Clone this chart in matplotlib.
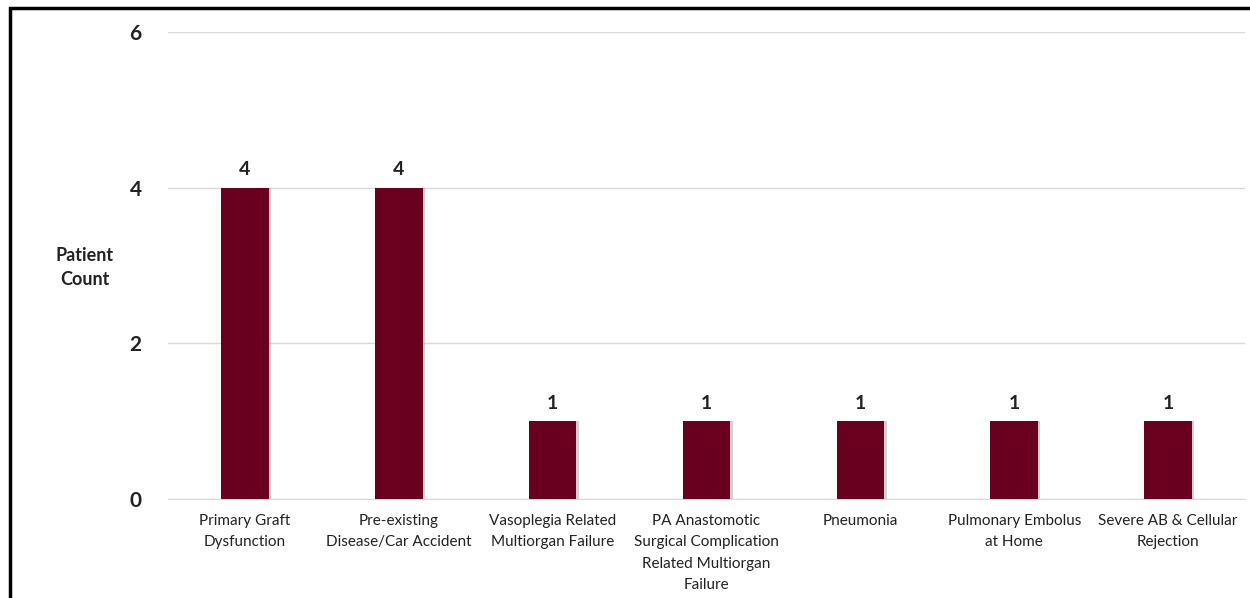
import matplotlib.pyplot as plt
from matplotlib.patches import Rectangle

categories = [
    "Primary Graft\nDysfunction",
    "Pre-existing\nDisease/Car Accident",
    "Vasoplegia Related\nMultiorgan Failure",
    "PA Anastomotic\nSurgical Complication\nRelated Multiorgan\nFailure",
    "Pneumonia",
    "Pulmonary Embolus\nat Home",
    "Severe AB & Cellular\nRejection",
]
counts = [4, 4, 1, 1, 1, 1, 1]
y_ticks = [0, 2, 4, 6]

plt.rcParams['font.family'] = ['Lato', 'DejaVu Sans']
bar_color = '#6a0020'

fig = plt.figure(figsize=(12.5, 5.98), dpi=100)
ax = fig.add_axes([0.1344, 0.1656, 0.8616, 0.781])

x = list(range(len(categories)))
# soft shadow behind bars
ax.bar([i + 0.015 for i in x], counts, width=0.31, color='#999999', alpha=0.45, zorder=2)
ax.bar(x, counts, width=0.31, color=bar_color, zorder=3)

for i, v in zip(x, counts):
    ax.text(i, v + 0.12, str(v), ha='center', va='bottom',
            fontsize=14, fontweight='bold', color='#222222')

ax.set_xlim(-0.5, len(categories) - 0.5)
ax.set_ylim(0, 6)
ax.set_yticks(y_ticks)
ax.set_yticklabels([str(t) for t in y_ticks], fontsize=15, fontweight='bold', color='#222222')
ax.tick_params(axis='y', length=0, pad=19)
ax.set_xticks(x)
ax.set_xticklabels(categories, fontsize=11, color='#222222', linespacing=1.65)
ax.tick_params(axis='x', length=0, pad=11)

ax.grid(axis='y', color='#d9d9d9', linewidth=1, zorder=0)
for s in ['top', 'right', 'left']:
    ax.spines[s].set_visible(False)
ax.spines['bottom'].set_color('#d9d9d9')
ax.set_axisbelow(True)

fig.text(0.068, 0.553, "Patient\nCount", ha='center', va='center',
         fontsize=13, fontweight='bold', color='#222222', linespacing=1.5)

# outer frame (cut off at right and bottom)
fig.patches.append(Rectangle((10 / 1250, -0.1), 1.2, 1 - 8 / 598 + 0.1,
                             transform=fig.transFigure, fill=False,
                             edgecolor='black', linewidth=2.5))

fig.savefig('out.png', dpi=100)
